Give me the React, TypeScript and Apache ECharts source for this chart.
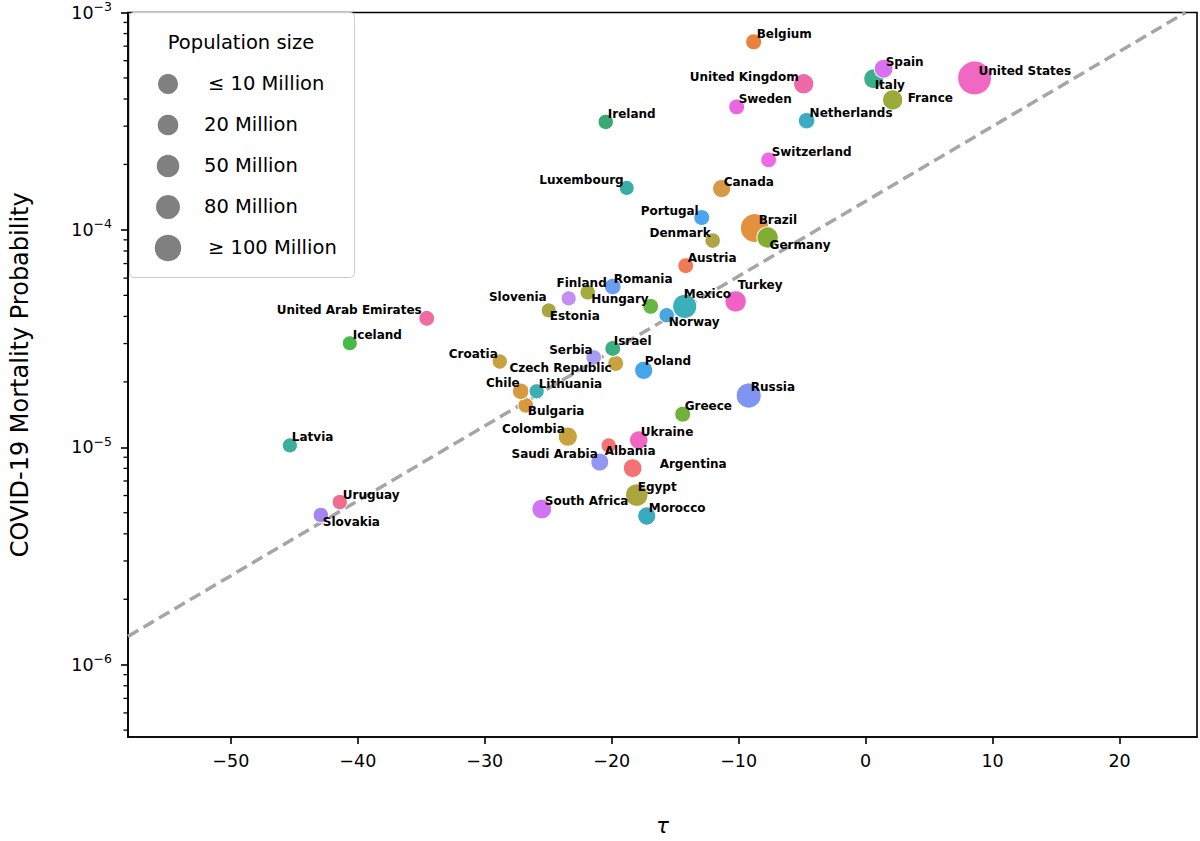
import React, { useEffect, useRef } from "react";
import * as echarts from "echarts";

const countries = [
  "Belgium", "United Kingdom", "Sweden", "Ireland", "Switzerland", "Luxembourg",
  "Canada", "Portugal", "Brazil", "Germany", "Denmark", "Austria", "Romania",
  "Finland", "Slovenia", "Hungary", "Estonia", "Norway", "Mexico", "Turkey",
  "United Arab Emirates", "Iceland", "Croatia", "Serbia", "Czech Republic",
  "Israel", "Poland", "Bulgaria", "Chile", "Lithuania", "Colombia", "Latvia",
  "Saudi Arabia", "Albania", "Argentina", "Ukraine", "Uruguay", "Slovakia",
  "South Africa", "Egypt", "Morocco", "Greece", "Russia", "Italy", "Spain",
  "France", "United States", "Netherlands",
];

const tau = [
  -8.82, -4.88, -10.16, -20.47, -7.64, -18.82, -11.34, -12.91, -8.74, -7.72,
  -12.05, -14.17, -19.92, -21.89, -23.39, -16.93, -24.96, -15.67, -14.25, -10.24,
  -34.57, -40.63, -28.82, -21.42, -19.69, -19.92, -17.48, -26.77, -27.17, -25.91,
  -23.46, -45.35, -20.94, -20.24, -18.35, -17.87, -41.42, -42.91, -25.51, -18.03,
  -17.24, -14.41, -9.21, 0.63, 1.42, 2.13, 8.58, -4.65,
];

const mortality = [
  7.33e-4, 4.70e-4, 3.68e-4, 3.14e-4, 2.10e-4, 1.56e-4, 1.55e-4, 1.14e-4, 1.02e-4, 9.23e-5,
  8.93e-5, 6.85e-5, 5.49e-5, 5.16e-5, 4.84e-5, 4.45e-5, 4.26e-5, 4.05e-5, 4.45e-5, 4.69e-5,
  3.92e-5, 3.01e-5, 2.48e-5, 2.59e-5, 2.43e-5, 2.85e-5, 2.26e-5, 1.56e-5, 1.81e-5, 1.81e-5,
  1.12e-5, 1.02e-5, 8.55e-6, 1.02e-5, 8.02e-6, 1.08e-5, 5.60e-6, 4.88e-6, 5.20e-6, 6.03e-6,
  4.83e-6, 1.42e-5, 1.73e-5, 4.96e-4, 5.51e-4, 3.96e-4, 5.00e-4, 3.18e-4,
];

// population in millions
const population = [
  11.5, 67, 10.3, 4.9, 8.6, 0.63, 38, 10.3, 212, 83,
  5.8, 9, 19, 5.5, 2.1, 9.7, 1.3, 5.4, 129, 84,
  9.9, 0.36, 4.1, 6.9, 10.7, 9.2, 38, 6.9, 19, 2.8,
  51, 1.9, 35, 2.9, 45, 44, 3.5, 5.5, 59, 102,
  37, 10.7, 146, 60, 47, 67, 331, 17,
];

const pointColors = [
  "#e8823c", "#ee6aa7", "#ea66e0", "#3aa775", "#ee6ae8", "#3aaea5", "#d59a45", "#4aa5ee", "#e4913e", "#83ad32",
  "#b0a545", "#f07a55", "#6a9cf0", "#a6ab3d", "#c58ef0", "#69b542", "#a8a63e", "#47a6dd", "#3cb0b8", "#f062c4",
  "#f06ba2", "#47b84a", "#c9a042", "#a79cf0", "#c7a440", "#3cae82", "#42a6e8", "#d8993e", "#d79a3e", "#3cafb0",
  "#c8a23b", "#3cae9c", "#9396f2", "#f37475", "#f37373", "#f067c2", "#f06d8e", "#a585f2", "#d174f2", "#aba63c",
  "#3aaabf", "#72b03c", "#8194f2", "#3aaf8e", "#d872f0", "#9aab3a", "#f168c3", "#3eabc4",
];

// label placement relative to each point: [dx, dy, align]
const labelOffsets: [number, number, string][] = [
  [3, -8, "left"], [-5, -7, "right"], [2, -8, "left"], [2, -8, "left"], [3, -8, "left"],
  [-3, -8, "right"], [2, -7, "left"], [-3, -7, "right"], [4, -8, "left"], [2, 8, "left"],
  [-2, -8, "right"], [2, -8, "left"], [1, -8, "left"], [19, -9, "right"], [-22, -1, "right"],
  [-2, -7, "right"], [1, 6, "left"], [2, 7, "left"], [-1, -12, "left"], [2, -16, "left"],
  [-5, -8, "right"], [3, -8, "left"], [-2, -8, "right"], [-1, -7, "right"], [-4, 5, "right"],
  [1, -7, "left"], [1, -9, "left"], [2, 6, "left"], [-1, -8, "right"], [2, -7, "left"],
  [-3, -8, "right"], [2, -8, "left"], [-2, -8, "right"], [-4, 6, "left"], [27, -4, "left"],
  [2, -8, "left"], [3, -7, "left"], [2, 7, "left"], [3, -8, "left"], [1, -8, "left"],
  [2, -8, "left"], [2, -8, "left"], [2, -9, "left"], [1, 6, "left"], [2, -7, "left"],
  [15, -2, "left"], [4, -7, "left"], [3, -8, "left"],
];

const fitLine = [
  [-58.1, 1.35e-6],
  [25.2, 1.0e-3],
];

const xTicks = [-50, -40, -30, -20, -10, 0, 10, 20];
const yTicks = [1e-6, 1e-5, 1e-4, 1e-3];
const yMinorTicks = [
  5e-7, 6e-7, 7e-7, 8e-7, 9e-7,
  2e-6, 3e-6, 4e-6, 5e-6, 6e-6, 7e-6, 8e-6, 9e-6,
  2e-5, 3e-5, 4e-5, 5e-5, 6e-5, 7e-5, 8e-5, 9e-5,
  2e-4, 3e-4, 4e-4, 5e-4, 6e-4, 7e-4, 8e-4, 9e-4,
];

const legendTitle = "Population size";
const legendLabels = ["≤ 10 Million", "20 Million", "50 Million", "80 Million", "≥ 100 Million"];
const legendRadii = [10, 10.3, 11.3, 12, 13.3];

const X_MIN = -58.1;
const X_MAX = 26.1;
const Y_MIN = 4.65e-7;
const Y_MAX = 1e-3;
const FONT = "DejaVu Sans";

export default function App() {
  const ref = useRef<HTMLDivElement>(null);

  useEffect(() => {
    if (!ref.current) return;
    const chart = echarts.init(ref.current, null, { renderer: "svg" });

    const legendGraphics: any[] = [
      {
        type: "rect",
        left: 129,
        top: 12,
        shape: { width: 225, height: 265, r: 4 },
        style: { fill: "rgba(255,255,255,0.85)", stroke: "#cccccc", lineWidth: 1 },
        z: 100,
      },
      {
        type: "text",
        x: 241,
        y: 42,
        style: {
          text: legendTitle,
          fontSize: 19.5,
          fontFamily: FONT,
          fill: "#000",
          align: "center",
          verticalAlign: "middle",
        },
        z: 101,
      },
    ];
    legendLabels.forEach((lab, i) => {
      const cy = 84 + i * 41;
      legendGraphics.push({
        type: "circle",
        shape: { cx: 168, cy, r: legendRadii[i] },
        style: { fill: "#808080" },
        z: 101,
      });
      legendGraphics.push({
        type: "text",
        x: i === 0 || i === 4 ? 208 : 204,
        y: cy - 1,
        style: {
          text: lab,
          fontSize: 19.5,
          fontFamily: FONT,
          fill: "#000",
          align: "left",
          verticalAlign: "middle",
        },
        z: 101,
      });
    });

    const option: any = {
      animation: false,
      backgroundColor: "#ffffff",
      grid: {
        left: 127,
        right: 3,
        top: 12,
        bottom: 103,
        show: true,
        borderColor: "#000",
        borderWidth: 1.6,
        backgroundColor: "transparent",
      },
      xAxis: {
        type: "value",
        min: X_MIN,
        max: X_MAX,
        splitLine: { show: false },
        axisLine: { show: true, onZero: false, lineStyle: { color: "#000", width: 1.6 } },
        axisTick: {
          show: true,
          length: 7,
          customValues: xTicks,
          lineStyle: { color: "#000", width: 1.6 },
        },
        axisLabel: {
          customValues: xTicks,
          formatter: (v: number) => String(v).replace("-", "\u2212"),
          fontSize: 17.5,
          fontFamily: FONT,
          color: "#000",
          margin: 15,
        },
        name: "τ",
        nameLocation: "middle",
        nameGap: 78,
        nameTextStyle: { fontSize: 21, fontStyle: "italic", fontFamily: FONT, color: "#000" },
      },
      yAxis: [
        {
          type: "log",
          logBase: 10,
          min: Y_MIN,
          max: Y_MAX,
          splitLine: { show: false },
          axisLine: { show: true, onZero: false, lineStyle: { color: "#000", width: 1.6 } },
          axisTick: {
            show: true,
            length: 7,
            customValues: yTicks,
            lineStyle: { color: "#000", width: 1.6 },
          },
          axisLabel: {
            customValues: yTicks,
            margin: 16,
            formatter: (v: number) => {
              const e = Math.round(Math.log10(v));
              return "{b|10}{s|" + (e < 0 ? "\u2212" + -e : String(e)) + "}";
            },
            rich: {
              b: { fontSize: 17.5, fontFamily: FONT, color: "#000", lineHeight: 25, verticalAlign: "middle" },
              s: { fontSize: 12.5, fontFamily: FONT, color: "#000", lineHeight: 14, verticalAlign: "top" },
            },
          },
          name: "COVID-19 Mortality Probability",
          nameLocation: "middle",
          nameGap: 96,
          nameTextStyle: { fontSize: 24, fontFamily: FONT, color: "#000" },
        },
      ],
      series: [
        {
          type: "line",
          data: fitLine,
          symbol: "none",
          silent: true,
          lineStyle: { color: "#a6a6a6", width: 3.5, type: [12, 6] },
          z: 2,
        },
        {
          type: "custom",
          silent: true,
          clip: false,
          data: yMinorTicks.map((v) => [X_MIN, v]),
          renderItem: (_params: any, api: any) => {
            const p = api.coord([api.value(0), api.value(1)]);
            return {
              type: "line",
              shape: { x1: p[0] - 4.5, y1: p[1], x2: p[0], y2: p[1] },
              style: { stroke: "#000", lineWidth: 1.3 },
            };
          },
          z: 5,
        },
        {
          type: "scatter",
          data: countries.map((c, i) => ({
            name: c,
            value: [tau[i], mortality[i], population[i]],
            itemStyle: { color: pointColors[i] },
            label: {
              offset: [labelOffsets[i][0], labelOffsets[i][1]],
              align: labelOffsets[i][2],
            },
          })),
          symbol: "circle",
          symbolSize: (v: number[]) => 2 * Math.sqrt(56 + 0.7 * v[2]),
          itemStyle: { borderColor: "#ffffff", borderWidth: 1, opacity: 1 },
          label: {
            show: true,
            position: "inside",
            formatter: "{b}",
            fontFamily: FONT,
            fontWeight: "bold",
            fontSize: 12,
            color: "#000",
            verticalAlign: "middle",
          },
          emphasis: { disabled: true },
          z: 3,
        },
      ],
      graphic: legendGraphics,
    };

    chart.setOption(option);
    return () => chart.dispose();
  }, []);

  return (
    <div
      ref={ref}
      style={{ position: "absolute", left: 0, top: 0, width: 1200, height: 841 }}
    />
  );
}
